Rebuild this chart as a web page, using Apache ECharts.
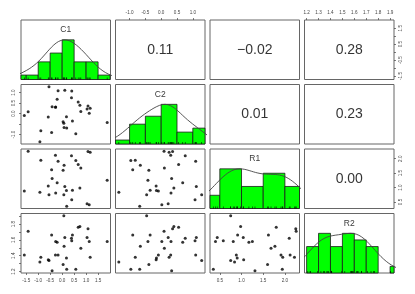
<!DOCTYPE html>
<html><head><meta charset="utf-8">
<script src="https://cdn.jsdelivr.net/npm/echarts@6/dist/echarts.min.js"></script>
<style>html,body{margin:0;padding:0;background:#fff}#c{width:415px;height:294px}</style>
</head><body><div id="c"></div>
<script>
// ---- data (30 observations) ----
const varNames = ['C1', 'C2', 'R1', 'R2'];
const C1 = [-1.58, -1.42, -0.93, -0.89, -0.58, -0.55, -0.44, -0.42, -0.28, -0.27, -0.21, -0.17, 0.04, 0.07, 0.08, 0.11, 0.18, 0.19, 0.39, 0.40, 0.43, 0.57, 0.67, 0.74, 0.78, 1.04, 1.08, 1.13, 1.17, 1.88];
const C2 = [-0.09, 0.09, -1.34, -0.82, -0.16, 1.28, -0.90, 0.33, 0.30, 0.31, 0.68, 1.09, -0.39, -0.46, -0.66, 1.11, -0.15, -0.68, 0.76, 1.07, -0.35, -0.96, 0.55, 0.40, 0.10, 0.22, 0.36, 0.02, 0.25, -0.42];
const R1 = [0.88, 2.26, 0.84, 1.95, 1.05, 0.75, 1.62, 1.31, 2.12, 0.81, 1.17, 1.91, 1.60, 0.75, 1.77, 1.04, 0.90, 0.35, 2.10, 0.58, 0.91, 1.94, 1.80, 0.98, 1.68, 0.44, 2.25, 0.40, 2.22, 1.25];
const R2 = [1.41, 1.71, 1.32, 1.38, 1.35, 1.34, 1.66, 1.21, 1.41, 1.58, 1.57, 1.41, 1.29, 1.905, 1.52, 1.63, 1.37, 1.23, 1.62, 1.59, 1.66, 1.23, 1.76, 1.77, 1.495, 1.63, 1.74, 1.58, 1.38, 1.58];

// correlation labels shown in the upper panels
const corrPairs = [[0, 1], [0, 2], [0, 3], [1, 2], [1, 3], [2, 3]];
const corrText = ['0.11', '\u22120.02', '0.28', '0.01', '0.23', '0.00'];

// histogram breaks
const c1Breaks = [-2, -1.5, -1, -0.5, 0, 0.5, 1, 1.5, 2];
const c2Breaks = [-1.5, -1, -0.5, 0, 0.5, 1, 1.5];
const r1Breaks = [0, 0.5, 1, 1.5, 2, 2.5];
const r2Breaks = [1.2, 1.3, 1.4, 1.5, 1.6, 1.7, 1.8, 1.9, 2.0];

// axis ticks and labels
const c1Ticks = [-1.5, -1, -0.5, 0, 0.5, 1, 1.5];
const c2Ticks = [-1, -0.5, 0, 0.5, 1];
const r1Ticks = [0.5, 1, 1.5, 2];
const r2Ticks = [1.2, 1.3, 1.4, 1.5, 1.6, 1.7, 1.8, 1.9];
const c1SideLabels = [-1.5, -0.5, 0.5, 1.5];
const c2SideLabels = [-1, 0, 0.5, 1];
const r1SideLabels = [0.5, 1, 1.5, 2];
const r2SideLabels = [1.2, 1.4, 1.6, 1.8];

// ---- helpers ----
const vars = [C1, C2, R1, R2];
const breaks = [c1Breaks, c2Breaks, r1Breaks, r2Breaks];
const ticks = [c1Ticks, c2Ticks, r1Ticks, r2Ticks];
const sideLabels = [c1SideLabels, c2SideLabels, r1SideLabels, r2SideLabels];
const n = C1.length;

function usr(v) { const lo = Math.min(...v), hi = Math.max(...v), r = hi - lo; return [lo - 0.04 * r, hi + 0.04 * r]; }
function counts(v, br) {
  const c = new Array(br.length - 1).fill(0);
  v.forEach(x => { for (let k = 0; k < br.length - 1; k++) { if ((x > br[k] || (k === 0 && x >= br[0])) && x <= br[k + 1]) { c[k]++; break; } } });
  return c;
}
function quantile(s, p) { const h = (s.length - 1) * p, lo = Math.floor(h); return s[lo] + (h - lo) * (s[Math.min(lo + 1, s.length - 1)] - s[lo]); }
function kde(v) {
  const s = [...v].sort((a, b) => a - b);
  const m = v.reduce((a, b) => a + b, 0) / n;
  const sd = Math.sqrt(v.reduce((a, b) => a + (b - m) * (b - m), 0) / (n - 1));
  const iqr = quantile(s, 0.75) - quantile(s, 0.25);
  const bw = 1.06 * Math.min(sd, iqr / 1.34) * Math.pow(n, -0.2) * 1.2;
  const lo = s[0] - 3 * bw, hi = s[n - 1] + 3 * bw, pts = [];
  for (let k = 0; k < 512; k++) {
    const x = lo + (hi - lo) * k / 511; let d = 0;
    for (const xi of v) { const z = (x - xi) / bw; d += Math.exp(-0.5 * z * z); }
    pts.push([x, d]);
  }
  const mx = Math.max(...pts.map(p => p[1]));
  return pts.map(p => [p[0], p[1] / mx]);
}

// ---- layout ----
const L = [21, 115.5, 210, 304.5], T = [20, 84.5, 149, 213.5], W = 89.5, H = 59.5;
const FONT = 'Liberation Sans, Arial, sans-serif';
const grid = [], xAxis = [], yAxis = [], series = [];

function hiddenAxis(k, r) {
  return { type: 'value', gridIndex: k, min: r[0], max: r[1], splitLine: { show: false },
    axisLine: { show: false, onZero: false }, axisTick: { show: false }, axisLabel: { show: false } };
}
function showAxis(ax, pos, tk, lab, rot, margin) {
  ax.position = pos;
  ax.axisTick = { show: true, inside: false, length: 2, customValues: tk, lineStyle: { color: '#444', width: 0.7 } };
  ax.axisLabel = { show: true, customValues: lab, fontSize: 4.6, color: '#444', margin: margin, rotate: rot,
    fontFamily: FONT, formatter: v => (+v).toFixed(1) };
}

for (let i = 0; i < 4; i++) {
  for (let j = 0; j < 4; j++) {
    const k = i * 4 + j;
    grid.push({ left: L[j], top: T[i], width: W, height: H, show: true, borderColor: '#666', borderWidth: 1, backgroundColor: '#fff' });
    const xr = usr(vars[j]);
    const yr = i === j ? [0, 1.5] : usr(vars[i]);
    const xa = hiddenAxis(k, xr), ya = hiddenAxis(k, yr);
    if (i === 0 && j % 2 === 1) showAxis(xa, 'top', ticks[j], ticks[j], 0, 4.5);
    if (i === 3 && j % 2 === 0) showAxis(xa, 'bottom', ticks[j], ticks[j], 0, 5);
    if (j === 0 && i % 2 === 1) showAxis(ya, 'left', ticks[i], sideLabels[i], 90, 5);
    if (j === 3 && i % 2 === 0) showAxis(ya, 'right', ticks[i], sideLabels[i], 90, 4.5);
    xAxis.push(xa); yAxis.push(ya);

    if (i > j) {
      series.push({ type: 'scatter', xAxisIndex: k, yAxisIndex: k, symbolSize: 3, itemStyle: { color: '#000' },
        data: vars[j].map((x, o) => [x, vars[i][o]]) });
    } else if (i < j) {
      const idx = corrPairs.findIndex(p => p[0] === i && p[1] === j);
      series.push({ type: 'scatter', xAxisIndex: k, yAxisIndex: k, symbolSize: 1, itemStyle: { color: 'rgba(0,0,0,0)' },
        label: { show: true, position: 'inside', formatter: () => corrText[idx], fontSize: 14, color: '#000', fontFamily: FONT },
        data: [[(xr[0] + xr[1]) / 2, (yr[0] + yr[1]) / 2]] });
    } else {
      const br = breaks[i], c = counts(vars[i], br), mx = Math.max(...c);
      const bars = [];
      c.forEach((cnt, b) => { if (cnt > 0) bars.push([br[b], br[b + 1], cnt / mx]); });
      series.push({ type: 'custom', xAxisIndex: k, yAxisIndex: k, z: 2, encode: { x: [0, 1], y: 2 }, data: bars,
        renderItem: (params, api) => {
          const p0 = api.coord([api.value(0), 0]);
          const p1 = api.coord([api.value(1), api.value(2)]);
          const cs = params.coordSys;
          const shape = echarts.graphic.clipRectByRect(
            { x: p0[0], y: p1[1], width: p1[0] - p0[0], height: p0[1] - p1[1] },
            { x: cs.x, y: cs.y, width: cs.width, height: cs.height });
          return shape && { type: 'rect', shape: shape, style: { fill: '#00ff00', stroke: '#1a1a1a', lineWidth: 0.8 } };
        } });
      series.push({ type: 'line', xAxisIndex: k, yAxisIndex: k, z: 3, showSymbol: false, symbol: 'none', clip: true,
        lineStyle: { color: '#444', width: 0.9 }, data: kde(vars[i]) });
      series.push({ type: 'scatter', xAxisIndex: k, yAxisIndex: k, z: 4, symbol: 'rect', symbolSize: [0.7, 2], symbolOffset: [0, -1],
        itemStyle: { color: '#000' }, data: vars[i].map(x => [x, 0]) });
      series.push({ type: 'scatter', xAxisIndex: k, yAxisIndex: k, z: 5, symbolSize: 1, itemStyle: { color: 'rgba(0,0,0,0)' },
        label: { show: true, position: 'inside', formatter: () => varNames[i], fontSize: 8.5, color: '#000', fontFamily: FONT },
        data: [[(xr[0] + xr[1]) / 2, 1.5 * 0.833]] });
    }
  }
}

const chart = echarts.init(document.getElementById('c'), null, { renderer: 'canvas' });
chart.setOption({ animation: false, backgroundColor: '#fff', grid, xAxis, yAxis, series });
</script>
</body></html>
